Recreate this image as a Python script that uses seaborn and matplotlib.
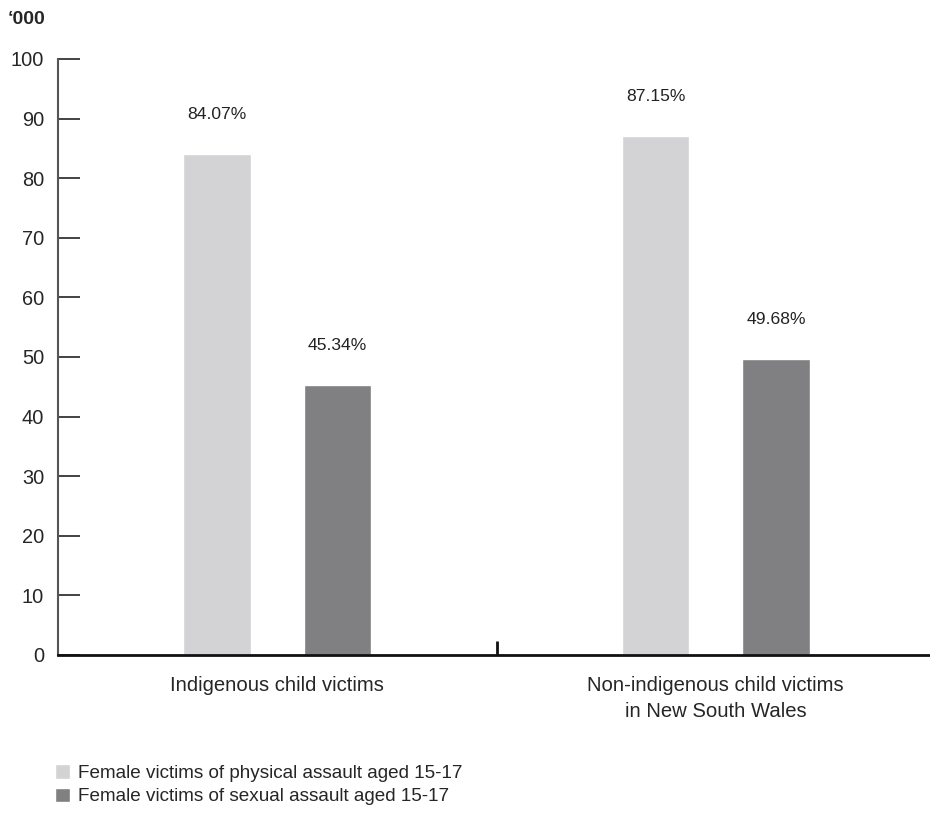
import matplotlib
matplotlib.use("Agg")
import matplotlib.pyplot as plt
import seaborn as sns
import pandas as pd

# chart data
groups = ["Indigenous child victims", "Non-indigenous child victims\nin New South Wales"]
series = ["Female victims of physical assault aged 15-17",
          "Female victims of sexual assault aged 15-17"]
physical = [84.07, 87.15]
sexual = [45.34, 49.68]
pct_labels = {series[0]: ["84.07%", "87.15%"], series[1]: ["45.34%", "49.68%"]}
colours = ["#d3d3d5", "#808083"]

df = pd.DataFrame({
    "group": groups * 2,
    "series": [series[0]] * 2 + [series[1]] * 2,
    "value": physical + sexual,
})

sns.set_style("white")
plt.rcParams["font.family"] = ["Liberation Sans", "DejaVu Sans"]

fig = plt.figure(figsize=(9.3, 8.17), dpi=100)
ax = fig.add_axes([58 / 930, 162 / 817, 877 / 930, 596 / 817])

sns.barplot(data=df, x="group", y="value", hue="series", palette=colours,
            width=0.55, gap=0.44, saturation=1, ax=ax)

# percentage labels above each bar
for cont, name in zip(ax.containers, series):
    ax.bar_label(cont, labels=pct_labels[name], padding=23, fontsize=12.6, color="#222222")

ax.set_xlim(-0.5, 1.5)
ax.set_ylim(0, 100)
ax.set_yticks(range(0, 101, 10))
ax.set_xlabel("")
ax.set_ylabel("")

sns.despine(ax=ax, top=True, right=True)
ax.spines["left"].set_color("#555555")
ax.spines["left"].set_linewidth(1.5)
ax.spines["bottom"].set_color("#111111")
ax.spines["bottom"].set_linewidth(2)
ax.spines["bottom"].set_clip_on(False)

ax.tick_params(axis="y", direction="in", length=16, width=1.2, color="#222222",
               labelsize=14.4, pad=10, left=True)
ax.tick_params(axis="x", which="major", length=0, labelsize=14.6, pad=15)
for lbl in ax.get_xticklabels():
    lbl.set_linespacing(1.45)
ax.set_xticks([0.5], minor=True)
ax.tick_params(axis="x", which="minor", direction="in", length=10, width=2,
               color="#111111", bottom=True)

fig.text(8 / 930, 1 - 20 / 817, "\u2018000", fontsize=14, fontweight="bold", va="center")

ax.legend(loc="upper left", bbox_to_anchor=(-0.003, -0.183), frameon=False,
          fontsize=13.6, handlelength=0.8, handleheight=0.8, handletextpad=0.4,
          labelspacing=0.3, borderaxespad=0, borderpad=0)

fig.savefig("out.png", dpi=100)
